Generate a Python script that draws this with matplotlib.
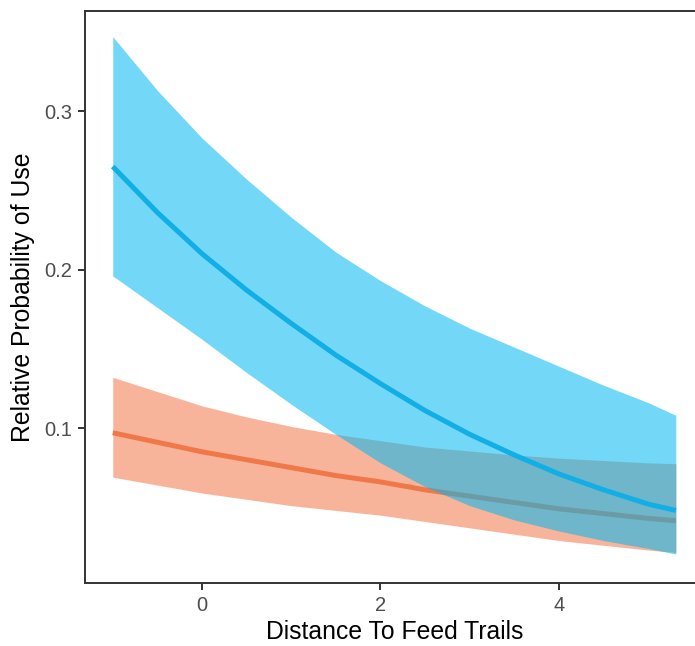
import matplotlib
matplotlib.use("Agg")
import matplotlib.pyplot as plt

plt.rcParams["font.family"] = ["Liberation Sans", "DejaVu Sans"]

# distance to feed trails (standardised)
dist = [-1.0, -0.5, 0.0, 0.5, 1.0, 1.5, 2.0, 2.5, 3.0, 3.5, 4.0, 4.5, 5.0, 5.31]

# blue group: fit and confidence band
blue_fit = [0.265, 0.236, 0.210, 0.187, 0.166, 0.146, 0.128, 0.111, 0.096, 0.083, 0.071, 0.061, 0.052, 0.048]
blue_hi = [0.347, 0.313, 0.283, 0.257, 0.233, 0.211, 0.193, 0.177, 0.163, 0.151, 0.139, 0.127, 0.116, 0.108]
blue_lo = [0.196, 0.176, 0.156, 0.135, 0.115, 0.096, 0.078, 0.063, 0.051, 0.042, 0.035, 0.029, 0.024, 0.0205]

# orange group: fit and confidence band
orange_fit = [0.097, 0.091, 0.085, 0.080, 0.075, 0.070, 0.066, 0.061, 0.057, 0.053, 0.049, 0.046, 0.043, 0.0415]
orange_hi = [0.132, 0.123, 0.114, 0.107, 0.101, 0.096, 0.092, 0.088, 0.0855, 0.083, 0.081, 0.0795, 0.078, 0.0775]
orange_lo = [0.069, 0.064, 0.059, 0.055, 0.051, 0.048, 0.045, 0.041, 0.037, 0.033, 0.029, 0.026, 0.023, 0.0215]

x_ticks = [0, 2, 4]
y_ticks = [0.1, 0.2, 0.3]

fig = plt.figure(figsize=(6.95, 6.46), dpi=100)
ax = fig.add_axes([0.1223, 0.0975, 0.8906, 0.8854])

ax.fill_between(dist, orange_lo, orange_hi, color="#F47747", alpha=0.55, linewidth=0, zorder=1)
ax.plot(dist, orange_fit, color="#F07848", linewidth=3.6, solid_capstyle="butt",
        solid_joinstyle="round", zorder=2)
ax.fill_between(dist, blue_lo, blue_hi, color="#00B8F4", alpha=0.55, linewidth=0, zorder=3)
ax.plot(dist, blue_fit, color="#12AEE6", linewidth=3.6, solid_capstyle="butt",
        solid_joinstyle="round", zorder=4)

ax.set_xlim(-1.311, 5.625)
ax.set_ylim(0.0022, 0.3631)
ax.set_xticks(x_ticks)
ax.set_xticklabels([str(v) for v in x_ticks])
ax.set_yticks(y_ticks)
ax.set_yticklabels([f"{v:.1f}" for v in y_ticks])

for s in ax.spines.values():
    s.set_color("#333333")
    s.set_linewidth(1.4)

ax.tick_params(axis="both", length=5, width=1.4, color="#333333",
               labelsize=14.5, labelcolor="#4D4D4D", pad=4)

ax.set_xlabel("Distance To Feed Trails", fontsize=17.8, color="black", labelpad=4)
ax.set_ylabel("Relative Probability of Use", fontsize=17.8, color="black", labelpad=7)

fig.savefig("out.png", dpi=100, facecolor="white")
